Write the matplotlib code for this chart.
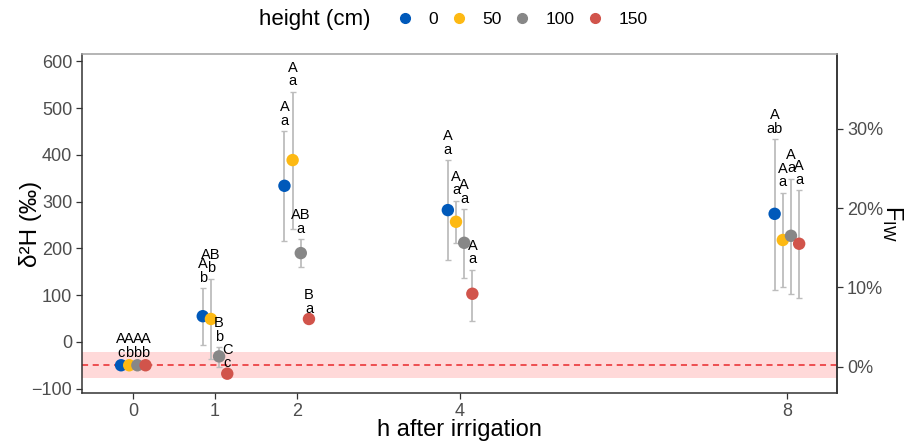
import matplotlib
matplotlib.use("Agg")
import matplotlib.pyplot as plt
import numpy as np
from matplotlib.lines import Line2D
from matplotlib.ticker import FuncFormatter

plt.rcParams['font.family'] = ['Liberation Sans', 'DejaVu Sans']

# ---------------- data ----------------
hours = [0, 1, 2, 4, 8]
heights = ["0", "50", "100", "150"]
colors = ["#0059BA", "#FDB913", "#878787", "#D1544B"]
dodge = [-0.15, -0.05, 0.05, 0.15]

# mean delta2H per height (rows) and hour (columns)
mean_h0 = [-50, 55, 334, 282, 274]
mean_h50 = [-50, 49, 389, 257, 218]
mean_h100 = [-50, -31, 190, 212, 227]
mean_h150 = [-50, -68, 49, 103, 210]

upper_h0 = [-46, 115, 451, 389, 434]
upper_h50 = [-46, 135, 535, 302, 319]
upper_h100 = [-46, -11, 220, 284, 349]
upper_h150 = [-46, -68, 49, 154, 325]

lower_h0 = [-54, -6, 216, 175, 111]
lower_h50 = [-54, -36, 242, 212, 118]
lower_h100 = [-54, -53, 160, 137, 103]
lower_h150 = [-54, -68, 49, 45, 94]

upper_letters_h0 = ["A", "A", "A", "A", "A"]
upper_letters_h50 = ["A", "AB", "A", "A", "A"]
upper_letters_h100 = ["A", "B", "AB", "A", "A"]
upper_letters_h150 = ["A", "C", "B", "A", "A"]

lower_letters_h0 = ["c", "b", "a", "a", "ab"]
lower_letters_h50 = ["b", "b", "a", "a", "a"]
lower_letters_h100 = ["b", "b", "a", "a", "a"]
lower_letters_h150 = ["b", "c", "a", "a", "a"]

means = [mean_h0, mean_h50, mean_h100, mean_h150]
uppers = [upper_h0, upper_h50, upper_h100, upper_h150]
lowers = [lower_h0, lower_h50, lower_h100, lower_h150]
up_letters = [upper_letters_h0, upper_letters_h50, upper_letters_h100, upper_letters_h150]
lo_letters = [lower_letters_h0, lower_letters_h50, lower_letters_h100, lower_letters_h150]

baseline = -50
band_low, band_high = -78, -22
f_zero = -52.8
f_scale = 1695.0

# ---------------- figure ----------------
fig = plt.figure(figsize=(9.08, 4.45), dpi=100)
ax = fig.add_axes([82 / 908, 1 - 393.3 / 445, (837.3 - 82) / 908, (393.3 - 54) / 445])

ax.axhspan(band_low, band_high, color="#FFD9D9", zorder=0, lw=0)
ax.axhline(baseline, color="#E8282B", lw=1.1, ls=(0, (4, 3)), zorder=1)

for i in range(4):
    x = np.array(hours, dtype=float) + dodge[i]
    m = np.array(means[i], dtype=float)
    up = np.array(uppers[i], dtype=float)
    lo = np.array(lowers[i], dtype=float)
    mask = up > lo + 0.5
    ax.errorbar(x[mask], m[mask], yerr=[m[mask] - lo[mask], up[mask] - m[mask]],
                fmt="none", ecolor="#BDBDBD", elinewidth=1.3, capsize=2.2,
                capthick=1.0, zorder=2)
    ax.scatter(x, m, s=80, color=colors[i], zorder=3, edgecolors="none")
    for j in range(len(hours)):
        top = max(up[j], m[j])
        ax.annotate(up_letters[i][j] + "\n" + lo_letters[i][j], (x[j], top),
                    xytext=(0, 2.5), textcoords="offset points",
                    ha="center", va="bottom", multialignment="center",
                    fontsize=10.5, linespacing=0.95, color="black", zorder=4)

ax.set_xlim(-0.628, 8.617)
ax.set_ylim(-110, 616)
ax.set_xticks(hours)
ax.set_xticklabels([str(h) for h in hours])
ax.set_yticks([-100, 0, 100, 200, 300, 400, 500, 600])

for s in ["left", "bottom", "right"]:
    ax.spines[s].set_color("#333333")
    ax.spines[s].set_linewidth(1.1)
ax.spines["top"].set_color("#A0A0A0")
ax.spines["top"].set_linewidth(1.1)

ax.tick_params(axis="both", labelsize=13, labelcolor="#4D4D4D", color="#333333",
               length=4, width=0.9, pad=3)
ax.set_xlabel("h after irrigation", fontsize=17, va="center")
ax.xaxis.set_label_coords(0.5, -(430 - 393.3) / (393.3 - 54))
ax.set_ylabel("δ²H (‰)", fontsize=17.5, va="center")
ax.yaxis.set_label_coords(-(82 - 31) / (837.3 - 82), 0.5)

sec = ax.secondary_yaxis("right", functions=(lambda d: (d - f_zero) / f_scale,
                                             lambda f: f * f_scale + f_zero))
sec.set_yticks([0, 0.1, 0.2, 0.3])
sec.yaxis.set_major_formatter(FuncFormatter(lambda v, p: f"{v*100:.0f}%"))
sec.tick_params(labelsize=13, labelcolor="#4D4D4D", color="#333333", length=4, width=0.9, pad=3)
sec.spines["right"].set_color("#333333")
sec.spines["right"].set_linewidth(1.1)
sec.set_ylabel(r"$\mathregular{F_{IW}}$", fontsize=17, rotation=270, labelpad=16)

# legend
fig.text(259 / 908, 1 - 19 / 445, "height (cm)", fontsize=16, ha="left", va="center")
handles = [Line2D([], [], marker="o", ls="none", color=c, markersize=7) for c in colors]
fig.legend(handles, heights, ncol=4, loc="center left",
           bbox_to_anchor=(396 / 908, 1 - 19 / 445), frameon=False, fontsize=12.5,
           handlelength=1.0, handletextpad=0.85, columnspacing=0.7, borderaxespad=0,
           borderpad=0)

fig.savefig("out.png", dpi=100)
